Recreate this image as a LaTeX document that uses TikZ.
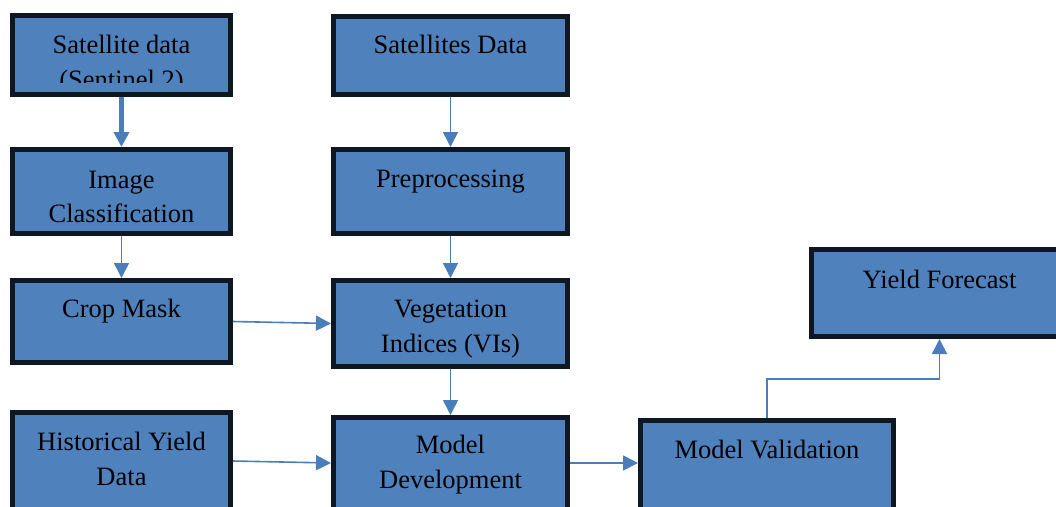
\documentclass[tikz,border=0pt]{standalone}
\usepackage{fontspec}
\setmainfont{Liberation Serif}
\usetikzlibrary{arrows.meta}
\definecolor{boxfill}{HTML}{4F81BD}
\definecolor{boxline}{HTML}{0F1822}
\definecolor{arrowc}{HTML}{4A7EBB}
\newcommand\bx[5]{\node[fbox,minimum width={(#4-#2-5)*1pt},minimum height={(#5-#3-5)*1pt}] (#1) at ({(#2+#4)/2},{(#3+#5)/2}) {};}
\begin{document}
\begin{tikzpicture}[x=1pt,y=-1pt,
  fbox/.style={draw=boxline,fill=boxfill,line width=5pt,inner sep=0pt,rectangle},
  txt/.style={anchor=base,inner sep=0pt,font=\rmfamily\fontsize{26.5}{35}\selectfont,text=black},
  conn/.style={draw=arrowc,line width=1.6pt,-{Triangle[length=15pt,width=15pt]}},
  thickconn/.style={draw=arrowc,line width=5pt,-{Triangle[length=15pt,width=15pt]}}]
\useasboundingbox (0,0) rectangle (1056,506);
\clip (0,0) rectangle (1056,506);
% boxes
\bx{s1}{10}{13}{233}{97}
\bx{ic}{10}{147}{233}{236}
\bx{cm}{10}{278}{233}{365}
\bx{hy}{10}{410}{233}{516}
\bx{sd}{331}{14}{570}{97}
\bx{pp}{331}{147}{570}{236}
\bx{vi}{331}{278}{570}{369}
\bx{md}{331}{415}{570}{516}
\bx{mv}{638}{418}{896}{516}
\bx{yf}{809}{247}{1070}{339}
% texts
\node[txt] (t1a) at (121.5,53) {Satellite data};
\begin{scope}
\clip (15,60) rectangle (228,82);
\node[txt] (t1b) at (121.5,88) {(Sentinel 2)};
\end{scope}
\node[txt] (t2a) at (121.5,188) {Image};
\node[txt] (t2b) at (121.5,222) {Classification};
\node[txt] (t3) at (121.5,317) {Crop Mask};
\node[txt] (t4a) at (121.5,450) {Historical Yield};
\node[txt] (t4b) at (121.5,485) {Data};
\node[txt] (t5) at (450.5,53) {Satellites Data};
\node[txt] (t6) at (450.5,187) {Preprocessing};
\node[txt] (t7a) at (450.5,317) {Vegetation};
\node[txt] (t7b) at (450.5,352) {Indices (VIs)};
\node[txt] (t8a) at (450.5,453) {Model};
\node[txt] (t8b) at (450.5,488) {Development};
\node[txt] (t9) at (767,458) {Model Validation};
\node[txt] (t10) at (939.5,288) {Yield Forecast};
% connectors
\draw[thickconn] (s1.south) -- (ic.north);
\draw[conn] (ic.south) -- (cm.north);
\draw[conn] (sd.south) -- (pp.north);
\draw[conn] (pp.south) -- (vi.north);
\draw[conn] (vi.south) -- (md.north);
\draw[conn] (cm.east) -- (vi.west);
\draw[conn] ([yshift=2pt]hy.east) -- ([yshift=2.5pt]md.west);
\draw[conn] ([yshift=2.5pt]md.east) -- ([yshift=4pt]mv.west);
\coordinate (elb) at (850,379);
\draw[conn] (mv.north) |- (elb) -| (yf.south);
\end{tikzpicture}
\end{document}
